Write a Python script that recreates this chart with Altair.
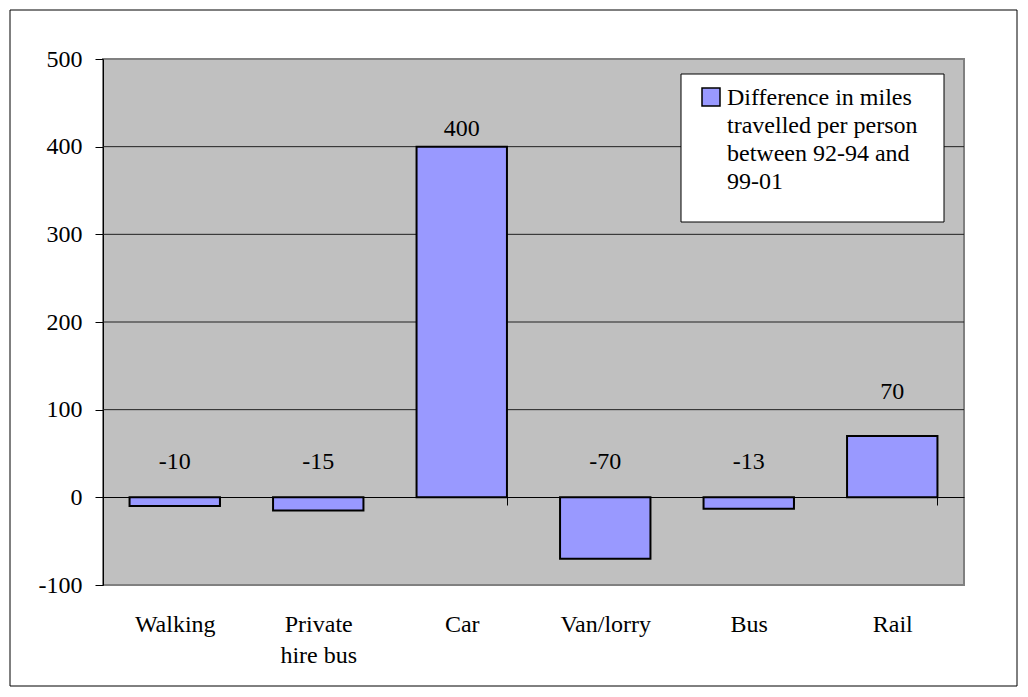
import altair as alt
import pandas as pd

categories = ["Walking", "Private hire bus", "Car", "Van/lorry", "Bus", "Rail"]
values = [-10, -15, 400, -70, -13, 70]
labels = ["-10", "-15", "400", "-70", "-13", "70"]
label_pos = [40, 40, 420, 40, 40, 120]
gridlines = [100, 200, 300, 400]
y_ticks = [-100, 0, 100, 200, 300, 400, 500]
legend_lines = ["Difference in miles", "travelled per person", "between 92-94 and", "99-01"]

FONT = "Times New Roman"
BAR = "#9999FF"

df = pd.DataFrame({"cat": categories, "value": values, "label": labels, "pos": label_pos})
grid_df = pd.DataFrame({"g": gridlines})
one = pd.DataFrame({"a": [0]})

yscale = alt.Scale(domain=[-100, 500], nice=False, zero=False)
xscale = alt.Scale(paddingInner=0.37, paddingOuter=0.185)

border = alt.Chart(one).mark_rect(fill=None, stroke="black", strokeWidth=1).encode(
    x=alt.value(-93), x2=alt.value(914), y=alt.value(-49), y2=alt.value(627))

grid = alt.Chart(grid_df).mark_rule(color="#202020", strokeWidth=1).encode(
    y=alt.Y("g:Q", scale=yscale))

bars = alt.Chart(df).mark_bar(stroke="black", strokeWidth=2, fill=BAR).encode(
    x=alt.X("cat:N", sort=categories, scale=xscale, title=None,
            axis=alt.Axis(orient="bottom", offset=-88, domainColor="black", domainWidth=1,
                          tickBand="extent", tickSize=8, tickColor="black",
                          labelPadding=107, labelFont=FONT, labelFontSize=24,
                          labelColor="black", labelAngle=0, labelLineHeight=31,
                          labelExpr="datum.label == 'Private hire bus' ? ['Private', 'hire bus'] : datum.label")),
    y=alt.Y("value:Q", scale=yscale, title=None,
            axis=alt.Axis(values=y_ticks, grid=False, domainColor="black", domainWidth=1,
                          tickSize=8, tickColor="black", labelPadding=13,
                          labelExpr="'' + datum.value",
                          labelFont=FONT, labelFontSize=24, labelColor="black")),
)

text = alt.Chart(df).mark_text(font=FONT, fontSize=24, color="black", baseline="middle").encode(
    x=alt.X("cat:N", sort=categories, scale=xscale),
    y=alt.Y("pos:Q", scale=yscale),
    text="label:N",
)

legend_box = alt.Chart(one).mark_rect(fill="white", stroke="black", strokeWidth=1).encode(
    x=alt.value(578), x2=alt.value(841), y=alt.value(15), y2=alt.value(163))
legend_swatch = alt.Chart(one).mark_rect(fill=BAR, stroke="black", strokeWidth=1.5).encode(
    x=alt.value(599), x2=alt.value(617), y=alt.value(29), y2=alt.value(47))
legend_text = alt.Chart(one).mark_text(
    text=legend_lines, font=FONT, fontSize=24, color="black",
    align="left", baseline="top", lineHeight=28
).encode(x=alt.value(624), y=alt.value(27))

chart = alt.layer(border, grid, bars, text, legend_box, legend_swatch, legend_text).properties(
    width=861, height=526,
    background="white",
    autosize=alt.AutoSizeParams(type="none"),
    padding={"left": 95, "top": 51, "right": 55, "bottom": 102},
).configure_view(
    fill="#C0C0C0", stroke="#808080", strokeWidth=2
)

chart.save("out.html", embed_options={"renderer": "svg", "actions": False})
